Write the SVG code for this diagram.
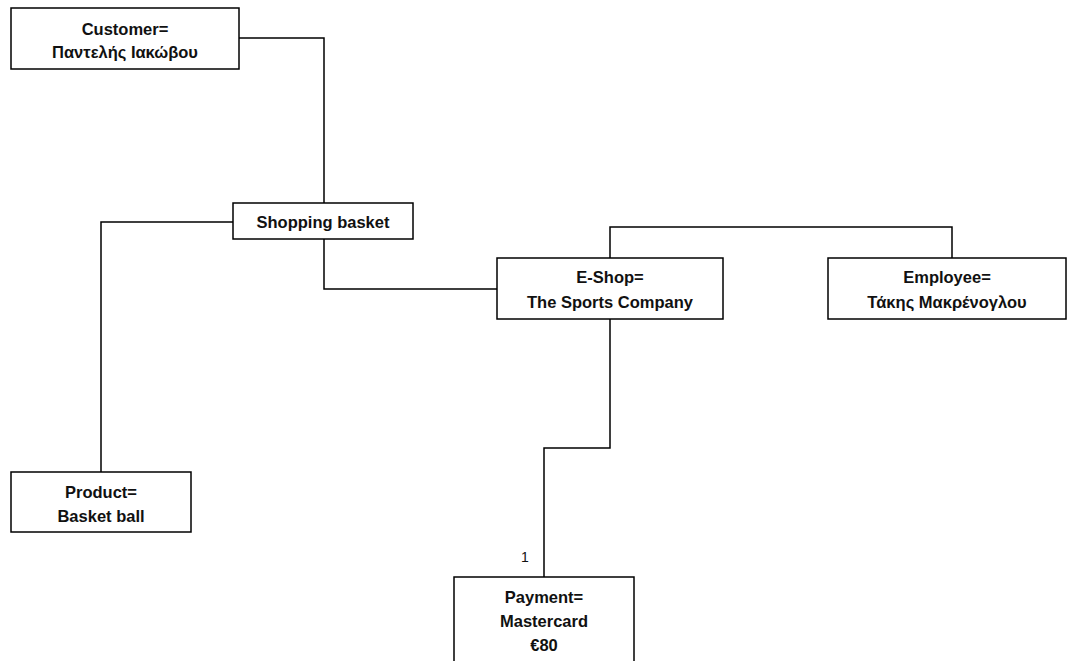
<svg xmlns="http://www.w3.org/2000/svg" width="1069" height="661" viewBox="0 0 1069 661">
  <style>
    .box { fill: #ffffff; stroke: #000000; stroke-width: 1.5; }
    .wire { fill: none; stroke: #000000; stroke-width: 1.5; }
    .lbl { font-family: "Liberation Sans", Arial, sans-serif; font-weight: bold; font-size: 16.5px; fill: #111111; text-anchor: middle; }
    .mult { font-family: "Liberation Sans", Arial, sans-serif; font-size: 14px; fill: #111111; text-anchor: middle; }
  </style>
  <rect width="1069" height="661" fill="#ffffff"/>

  <g id="connectors">
    <polyline class="wire" points="239,38 324,38 324,203"/>
    <polyline class="wire" points="233,222 101,222 101,472"/>
    <polyline class="wire" points="324,239 324,289 497,289"/>
    <polyline class="wire" points="610,258 610,227 952,227 952,258"/>
    <polyline class="wire" points="610,319 610,448 544,448 544,577"/>
    <text class="mult" x="525" y="562">1</text>
  </g>

  <g id="customer">
    <rect class="box" x="11" y="8" width="228" height="61"/>
    <text class="lbl" x="125" y="35">Customer=</text>
    <text class="lbl" x="125" y="58">Παντελής Ιακώβου</text>
  </g>

  <g id="shopping-basket">
    <rect class="box" x="233" y="203" width="180" height="36"/>
    <text class="lbl" x="323" y="228">Shopping basket</text>
  </g>

  <g id="product">
    <rect class="box" x="11" y="472" width="180" height="60"/>
    <text class="lbl" x="101" y="498">Product=</text>
    <text class="lbl" x="101" y="522">Basket ball</text>
  </g>

  <g id="eshop">
    <rect class="box" x="497" y="258" width="226" height="61"/>
    <text class="lbl" x="610" y="283">E-Shop=</text>
    <text class="lbl" x="610" y="308">The Sports Company</text>
  </g>

  <g id="employee">
    <rect class="box" x="828" y="258" width="238" height="61"/>
    <text class="lbl" x="947" y="283">Employee=</text>
    <text class="lbl" x="947" y="308">Τάκης Μακρένογλου</text>
  </g>

  <g id="payment">
    <rect class="box" x="454" y="577" width="180" height="90"/>
    <text class="lbl" x="544" y="603">Payment=</text>
    <text class="lbl" x="544" y="627">Mastercard</text>
    <text class="lbl" x="544" y="651">€80</text>
  </g>
</svg>
